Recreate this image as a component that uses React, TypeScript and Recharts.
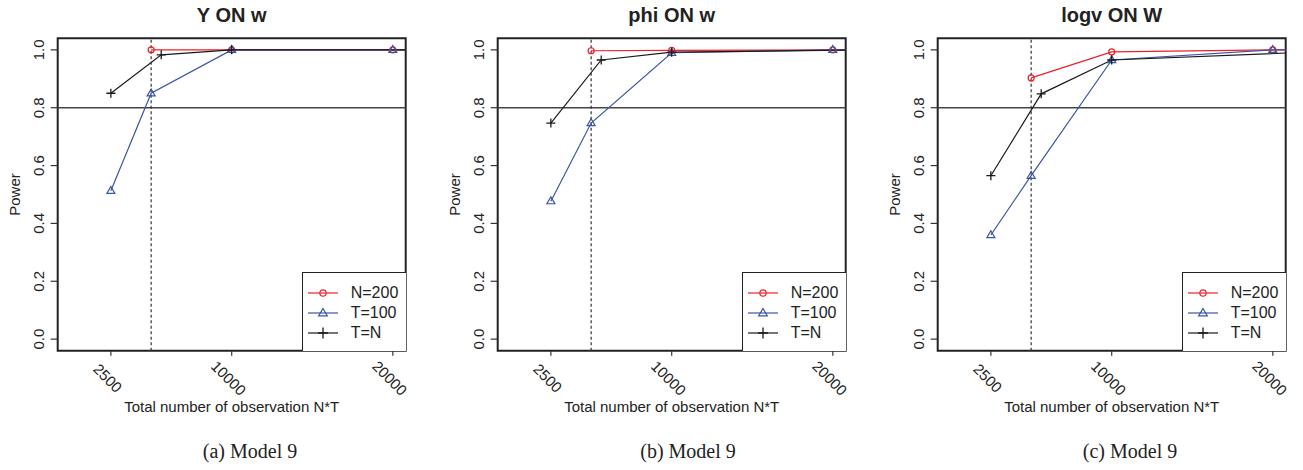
import React from 'react';
import { LineChart, Line, XAxis, YAxis, ReferenceLine, ReferenceArea, Legend, Label } from 'recharts';

// N*T for each design (points past 20000 only show as the line running off the frame)
const ntN200 = [5000, 10000, 20000, 40000];
const ntT100 = [2500, 5000, 10000, 20000, 40000];
const ntTeqN = [2500, 5625, 10000, 22500];

const xTicks = [2500, 10000, 20000];
const yTicks = [0, 0.2, 0.4, 0.6, 0.8, 1.0];
const seriesNames = ['N=200', 'T=100', 'T=N'];
const titles = ['Y ON w', 'phi ON w', 'logv ON W'];
const captions = ['(a) Model 9', '(b) Model 9', '(c) Model 9'];

// power, panel (a)
const yN200 = [1.0, 1.0, 1.0, 1.0];
const yT100 = [0.513, 0.85, 1.0, 1.0, 1.0];
const yTeqN = [0.85, 0.983, 1.0, 1.0];
// power, panel (b)
const phiN200 = [0.997, 0.998, 1.0, 1.0];
const phiT100 = [0.477, 0.747, 0.99, 1.0, 1.0];
const phiTeqN = [0.747, 0.965, 0.992, 1.0];
// power, panel (c)
const logvN200 = [0.903, 0.993, 1.0, 1.0];
const logvT100 = [0.36, 0.565, 0.965, 1.0, 1.0];
const logvTeqN = [0.565, 0.848, 0.965, 0.993];

const POWER_TARGET = 0.8;
const NT_MARK = 5000;

const RED = '#ee1f26';
const BLUE = '#3b55a5';
const BLACK = '#1a1a1a';
const SANS = '"Liberation Sans", Arial, Helvetica, sans-serif';

const zip = (xs: number[], ys: number[]) => xs.map((nt, i) => ({ nt, power: ys[i] }));

const panels = [
  { n200: yN200, t100: yT100, teq: yTeqN },
  { n200: phiN200, t100: phiT100, teq: phiTeqN },
  { n200: logvN200, t100: logvT100, teq: logvTeqN },
];

const PLOT_LEFT = 57.7;
const PLOT_W = 348;
const PLOT_TOP = 38.3;
const PLOT_BOTTOM = 350.7;
const CHART_H = 420;

const circleDot = (p: any) =>
  p.cx == null ? <g key={p.index} /> : (
    <circle key={p.index} cx={p.cx} cy={p.cy} r={3} fill="none" stroke={RED} strokeWidth={1.2} />
  );

const triDot = (p: any) =>
  p.cx == null ? <g key={p.index} /> : (
    <path
      key={p.index}
      d={`M${p.cx},${p.cy - 4.3}L${p.cx + 4},${p.cy + 2.6}L${p.cx - 4},${p.cy + 2.6}Z`}
      fill="none"
      stroke={BLUE}
      strokeWidth={1.2}
    />
  );

const plusDot = (p: any) =>
  p.cx == null ? <g key={p.index} /> : (
    <path
      key={p.index}
      d={`M${p.cx - 4.5},${p.cy}H${p.cx + 4.5}M${p.cx},${p.cy - 4.5}V${p.cy + 4.5}`}
      stroke={BLACK}
      strokeWidth={1.3}
    />
  );

const YTick = (p: any) => (
  <text
    transform={`translate(${PLOT_LEFT - 14.2},${p.y}) rotate(-90)`}
    textAnchor="middle"
    fontFamily={SANS}
    fontSize={15}
    fill="#222"
  >
    {p.payload.value.toFixed(1)}
  </text>
);

const XTick = (p: any) => (
  <text
    transform={`translate(${p.x - 3},378) rotate(45)`}
    textAnchor="middle"
    dominantBaseline="central"
    fontFamily={SANS}
    fontSize={15}
    fill="#222"
  >
    {p.payload.value}
  </text>
);

const legendMarks = [
  (x: number, y: number) => <circle cx={x} cy={y} r={3.2} fill="none" stroke={RED} strokeWidth={1.2} />,
  (x: number, y: number) => (
    <path d={`M${x},${y - 4.5}L${x + 4.3},${y + 2.8}L${x - 4.3},${y + 2.8}Z`} fill="none" stroke={BLUE} strokeWidth={1.2} />
  ),
  (x: number, y: number) => <path d={`M${x - 5},${y}H${x + 5}M${x},${y - 5.5}V${y + 5.5}`} stroke={BLACK} strokeWidth={1.3} />,
];
const legendColors = [RED, BLUE, BLACK];

const LegendBox = (props: any) => {
  const payload = props.payload || [];
  return (
    <div
      style={{
        width: 104,
        height: 79,
        boxSizing: 'border-box',
        border: '1.5px solid #222',
        borderRight: 'none',
        borderBottom: 'none',
        background: '#fff',
        position: 'relative',
      }}
    >
      {payload.map((entry: any, i: number) => (
        <div
          key={entry.value}
          style={{ position: 'absolute', left: 0, top: 11 + i * 20, height: 18, display: 'flex', alignItems: 'center' }}
        >
          <svg width={46} height={18} style={{ display: 'block' }}>
            <line x1={5} x2={35} y1={9} y2={9} stroke={legendColors[i]} strokeWidth={1.2} />
            {legendMarks[i](20, 9)}
          </svg>
          <span style={{ fontFamily: SANS, fontSize: 16, color: '#222', marginLeft: 2 }}>{entry.value}</span>
        </div>
      ))}
    </div>
  );
};

const Panel = ({ idx, width }: { idx: number; width: number }) => {
  const d = panels[idx];
  const cx = PLOT_LEFT + PLOT_W / 2;
  return (
    <div style={{ position: 'absolute', left: idx * 440, top: 0, width, height: CHART_H }}>
      <div
        style={{
          position: 'absolute',
          left: cx - 100,
          width: 200,
          top: 4,
          textAlign: 'center',
          fontFamily: SANS,
          fontWeight: 'bold',
          fontSize: 20,
          lineHeight: '22px',
          color: '#222',
        }}
      >
        {titles[idx]}
      </div>
      <LineChart
        width={width}
        height={CHART_H}
        margin={{ top: PLOT_TOP, left: PLOT_LEFT - 50, right: width - PLOT_LEFT - PLOT_W, bottom: CHART_H - PLOT_BOTTOM - 40 }}
      >
        <XAxis
          dataKey="nt"
          type="number"
          domain={[-800, 20800]}
          allowDataOverflow
          ticks={xTicks}
          tick={<XTick />}
          tickSize={5}
          tickLine={{ stroke: '#333', strokeWidth: 1.2 }}
          axisLine={false}
          height={40}
          interval={0}
        >
          <Label
            content={() => (
              <text x={cx} y={406} textAnchor="middle" dominantBaseline="central" fontFamily={SANS} fontSize={15} fill="#222">
                Total number of observation N*T
              </text>
            )}
          />
        </XAxis>
        <YAxis
          type="number"
          domain={[-0.04, 1.04]}
          allowDataOverflow
          ticks={yTicks}
          tick={<YTick />}
          tickSize={7}
          tickLine={{ stroke: '#333', strokeWidth: 1.2 }}
          axisLine={false}
          width={50}
          interval={0}
        >
          <Label
            content={() => (
              <text
                transform={`translate(14,${(PLOT_TOP + PLOT_BOTTOM) / 2}) rotate(-90)`}
                textAnchor="middle"
                dominantBaseline="central"
                fontFamily={SANS}
                fontSize={15}
                fill="#222"
              >
                Power
              </text>
            )}
          />
        </YAxis>
        <ReferenceLine y={POWER_TARGET} stroke="#444" strokeWidth={1.5} />
        <ReferenceLine x={NT_MARK} stroke="#333" strokeWidth={1.2} strokeDasharray="3 2.5" />
        <Line
          data={zip(ntN200, d.n200)}
          dataKey="power"
          name={seriesNames[0]}
          stroke={RED}
          strokeWidth={1.2}
          dot={circleDot}
          activeDot={false}
          isAnimationActive={false}
        />
        <Line
          data={zip(ntT100, d.t100)}
          dataKey="power"
          name={seriesNames[1]}
          stroke={BLUE}
          strokeWidth={1.2}
          dot={triDot}
          activeDot={false}
          isAnimationActive={false}
        />
        <Line
          data={zip(ntTeqN, d.teq)}
          dataKey="power"
          name={seriesNames[2]}
          stroke={BLACK}
          strokeWidth={1.2}
          dot={plusDot}
          activeDot={false}
          isAnimationActive={false}
        />
        <ReferenceArea x1={-800} x2={20800} y1={-0.04} y2={1.04} fill="none" stroke="#222" strokeWidth={2} />
        <Legend
          layout="vertical"
          align="center"
          verticalAlign="middle"
          content={<LegendBox />}
          wrapperStyle={{ left: PLOT_LEFT + PLOT_W - 104, top: PLOT_BOTTOM - 79, width: 104, height: 79 }}
        />
      </LineChart>
    </div>
  );
};

const captionX = [250, 688, 1130];

export default function App() {
  return (
    <div style={{ position: 'absolute', left: 0, top: 0, width: 1303, height: 470, background: '#fff', overflow: 'hidden' }}>
      <Panel idx={0} width={440} />
      <Panel idx={1} width={440} />
      <Panel idx={2} width={423} />
      {captions.map((c, i) => (
        <div
          key={c}
          style={{
            position: 'absolute',
            left: captionX[i] - 100,
            width: 200,
            top: 439,
            textAlign: 'center',
            fontFamily: '"Liberation Serif", "Times New Roman", serif',
            fontSize: 20,
            lineHeight: '24px',
            color: '#222',
          }}
        >
          {c}
        </div>
      ))}
    </div>
  );
}
